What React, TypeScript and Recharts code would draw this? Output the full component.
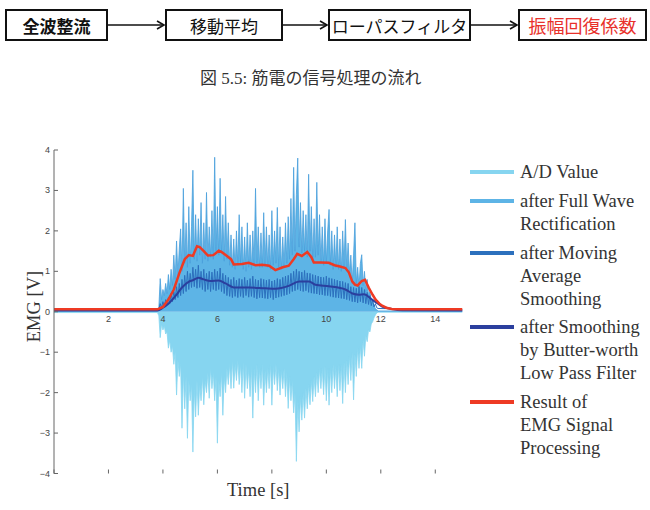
import React from 'react';
import { ComposedChart, Area, Line, XAxis, YAxis, ReferenceDot } from 'recharts';

// sampling grid for the measured part (s)
const ACTIVE_START = 3.85;
const ACTIVE_STEP = 0.05;
const ACTIVE_COUNT = 161;

const SAMPLE_T = [
  0,
  3.8,
  ...Array.from({ length: ACTIVE_COUNT }, (_, i) => +(ACTIVE_START + i * ACTIVE_STEP).toFixed(2)),
  11.9,
  15,
];

// A/D value (lower envelope of the raw signal) [V]
const RAW_AD = [
  -0.02, -0.02,
  -0.10, -0.64, -0.30, -0.45, -0.35, -0.55, -0.50, -0.90, -0.70, -1.00, -0.85, -1.30, -1.00, -2.06, -1.20, -1.60, -1.30, -2.88, -1.50, -2.40,
  -1.60, -3.13, -1.70, -2.20, -1.80, -3.47, -1.90, -2.60, -1.70, -2.56, -1.80, -2.20, -1.60, -2.30, -1.70, -2.00, -1.50, -2.14, -1.40, -1.90,
  -1.50, -2.20, -1.60, -3.25, -1.70, -2.10, -1.50, -2.56, -1.60, -2.00, -1.40, -1.80, -1.30, -1.90, -1.20, -1.89, -1.30, -1.70, -1.20, -1.80,
  -1.30, -2.00, -1.25, -2.14, -1.30, -1.90, -1.40, -2.10, -1.35, -2.63, -1.40, -2.00, -1.30, -2.20, -1.40, -1.90, -1.30, -2.31, -1.45, -2.00,
  -1.40, -1.90, -1.30, -2.31, -1.35, -1.80, -1.30, -1.95, -1.40, -2.06, -1.45, -1.90, -1.40, -2.10, -1.50, -2.39, -1.60, -2.20, -1.70, -2.50,
  -2.00, -3.70, -2.20, -2.97, -2.10, -2.68, -2.00, -2.63, -1.90, -2.40, -1.80, -2.30, -1.70, -2.22, -1.60, -2.10, -1.50, -2.00, -1.40, -1.90,
  -1.40, -2.05, -1.35, -2.20, -1.40, -2.31, -1.40, -2.00, -1.30, -1.90, -1.35, -2.10, -1.30, -1.95, -1.30, -2.27, -1.25, -2.00, -1.20, -1.80,
  -1.10, -1.70, -1.00, -2.18, -1.05, -1.60, -0.90, -1.40, -0.85, -1.40, -0.70, -1.10, -0.60, -0.74, -0.45, -0.50, -0.30, -0.25, -0.15, -0.08,
  -0.03,
  -0.01, -0.01,
];

// after full wave rectification [V]
const RECTIFIED = [
  0.02, 0.02,
  0.10, 0.82, 0.30, 0.55, 0.40, 0.70, 0.45, 0.92, 0.55, 1.05, 0.65, 1.40, 0.80, 1.75, 0.90, 1.55, 2.05, 1.00, 3.05, 1.20,
  2.20, 1.10, 2.60, 1.20, 2.10, 3.50, 1.30, 2.40, 1.25, 2.30, 1.40, 2.70, 1.20, 2.20, 1.30, 2.95, 1.25, 2.10, 1.35, 2.50,
  1.30, 3.82, 1.50, 2.60, 1.40, 3.30, 1.45, 2.40, 1.25, 2.85, 1.30, 2.20, 1.15, 1.90, 1.10, 1.80, 1.05, 2.00, 1.15, 2.40,
  1.20, 2.10, 1.05, 1.85, 1.00, 2.20, 1.10, 1.90, 1.05, 2.00, 1.15, 3.05, 1.20, 2.10, 1.10, 1.95, 1.10, 2.45, 1.15, 2.10,
  1.10, 1.90, 1.05, 2.50, 1.15, 2.00, 1.20, 2.58, 1.10, 2.10, 1.05, 1.85, 1.10, 2.20, 1.20, 2.35, 1.30, 2.80, 1.40, 3.57,
  1.50, 2.90, 3.80, 1.60, 2.70, 1.45, 2.50, 1.50, 2.40, 1.35, 3.40, 1.50, 2.60, 1.30, 2.30, 1.35, 3.20, 1.40, 2.40, 1.20,
  2.10, 1.15, 2.30, 1.20, 2.00, 2.53, 1.15, 2.00, 1.05, 1.90, 1.10, 2.10, 1.05, 1.80, 1.00, 2.00, 1.10, 2.28, 1.05, 1.70,
  0.95, 1.40, 0.70, 1.40, 2.20, 0.70, 1.10, 0.60, 1.20, 1.41, 0.65, 1.00, 0.50, 0.80, 0.40, 0.50, 0.28, 0.25, 0.15, 0.08,
  0.05,
  0.02, 0.02,
];

// after moving average smoothing [V]
const MOVING_AVG = [
  0.05, 0.05,
  0.06, 0.20, 0.10, 0.25, 0.12, 0.30, 0.18, 0.35, 0.20, 0.45, 0.25, 0.50, 0.30, 0.62, 0.35, 0.70, 0.40, 0.80, 0.45, 0.90,
  0.50, 1.00, 0.55, 0.95, 0.60, 1.10, 0.62, 1.05, 0.58, 1.15, 0.60, 1.00, 0.55, 1.05, 0.50, 0.95, 0.55, 1.00, 0.50, 0.98,
  0.55, 1.05, 0.52, 1.00, 0.55, 1.08, 0.50, 0.95, 0.45, 0.90, 0.40, 0.85, 0.38, 0.80, 0.35, 0.85, 0.38, 0.78, 0.35, 0.82,
  0.38, 0.80, 0.35, 0.85, 0.40, 0.78, 0.36, 0.82, 0.38, 0.88, 0.35, 0.80, 0.32, 0.78, 0.35, 0.82, 0.34, 0.80, 0.33, 0.78,
  0.32, 0.80, 0.35, 0.76, 0.30, 0.78, 0.34, 0.82, 0.36, 0.80, 0.38, 0.85, 0.40, 0.88, 0.42, 0.90, 0.45, 0.95, 0.50, 1.00,
  0.52, 1.05, 0.55, 1.00, 0.52, 0.98, 0.50, 1.02, 0.52, 0.96, 0.48, 0.95, 0.46, 0.92, 0.45, 0.90, 0.44, 0.88, 0.42, 0.86,
  0.42, 0.85, 0.40, 0.88, 0.40, 0.84, 0.38, 0.82, 0.36, 0.80, 0.35, 0.78, 0.34, 0.76, 0.33, 0.75, 0.32, 0.72, 0.30, 0.70,
  0.28, 0.62, 0.25, 0.60, 0.24, 0.58, 0.22, 0.62, 0.25, 0.60, 0.22, 0.55, 0.20, 0.48, 0.18, 0.40, 0.15, 0.30, 0.12, 0.20,
  0.10,
  0.08, 0.05,
];

// after smoothing by Butterworth low pass filter
const BUTTER_T = [0, 3.8, 4.0, 4.2, 4.45, 4.7, 4.94, 5.1, 5.31, 5.5, 5.74, 6.05, 6.3, 6.6, 7.15, 7.76, 8.13, 8.62, 9.0, 9.36, 9.6, 10.09, 10.7, 10.96, 11.2, 11.38, 11.68, 11.9, 12.05, 12.4, 12.8, 15];
const BUTTER_V = [0.03, 0.03, 0.10, 0.20, 0.38, 0.60, 0.74, 0.78, 0.84, 0.80, 0.76, 0.77, 0.70, 0.60, 0.60, 0.58, 0.57, 0.64, 0.75, 0.75, 0.67, 0.63, 0.55, 0.45, 0.42, 0.43, 0.30, 0.20, 0.13, 0.07, 0.04, 0.03];

// result of EMG signal processing
const RESULT_T = [0, 3.8, 4.0, 4.2, 4.4, 4.6, 4.8, 4.95, 5.1, 5.25, 5.35, 5.5, 5.65, 5.85, 6.05, 6.15, 6.35, 6.5, 6.6, 6.9, 7.15, 7.4, 7.64, 7.9, 8.13, 8.4, 8.62, 8.8, 8.93, 9.1, 9.3, 9.45, 9.54, 9.8, 10.09, 10.3, 10.5, 10.7, 10.83, 10.95, 11.05, 11.15, 11.3, 11.42, 11.56, 11.7, 11.81, 11.95, 12.05, 12.2, 12.4, 12.7, 15];
const RESULT_V = [0.06, 0.06, 0.12, 0.30, 0.55, 0.95, 1.30, 1.40, 1.38, 1.62, 1.60, 1.50, 1.39, 1.40, 1.51, 1.48, 1.38, 1.30, 1.17, 1.18, 1.21, 1.15, 1.16, 1.14, 1.03, 1.10, 1.14, 1.30, 1.43, 1.38, 1.48, 1.35, 1.22, 1.22, 1.21, 1.15, 1.12, 1.08, 0.97, 0.75, 0.67, 0.65, 0.76, 0.79, 0.59, 0.42, 0.30, 0.20, 0.15, 0.10, 0.07, 0.06, 0.06];

const X_TICKS = [0, 2, 4, 6, 8, 10, 12, 14];
const X_TICK_LABELS = [2, 4, 6, 8, 10, 12, 14];
const Y_TICKS = [-4, -3, -2, -1, 0, 1, 2, 3, 4];

const LEGEND_LABELS = [
  ['A/D Value'],
  ['after Full Wave', 'Rectification'],
  ['after Moving', 'Average', 'Smoothing'],
  ['after Smoothing', 'by Butter-worth', 'Low Pass Filter'],
  ['Result of', 'EMG Signal', 'Processing'],
];

const FLOW_STEPS = ['全波整流', '移動平均', 'ローパスフィルタ', '振幅回復係数'];
const CAPTION = '図 5.5: 筋電の信号処理の流れ';

const C_RAW = '#86d5f0';
const C_RECT = '#5db4e6';
const C_MA = '#2c70bd';
const C_BW = '#2b3f9e';
const C_RED = '#ee3a24';
const LEGEND_COLORS = [C_RAW, C_RECT, C_MA, C_BW, C_RED];

const rawData = SAMPLE_T.map((t, i) => ({ t, v: RAW_AD[i] }));
const rectData = SAMPLE_T.map((t, i) => ({ t, v: RECTIFIED[i] }));
const maData = SAMPLE_T.map((t, i) => ({ t, v: MOVING_AVG[i] }));
const bwData = BUTTER_T.map((t, i) => ({ t, v: BUTTER_V[i] }));
const resultData = RESULT_T.map((t, i) => ({ t, v: RESULT_V[i] }));

const AXIS = '#666';
const serif = '"Liberation Serif", "Times New Roman", serif';
const cjk = '"Noto Sans CJK JP", sans-serif';
const tickFont = '"Liberation Sans", Arial, sans-serif';

const fmt = (v: number) => (v < 0 ? '\u2212' + Math.abs(v) : String(v));

const LeftTick = ({ x, y, payload }: any) => (
  <g>
    <line x1={x} x2={x + 4} y1={y} y2={y} stroke={AXIS} />
    <text x={x - 4} y={y} dominantBaseline="central" textAnchor="end" fontSize={9} fill="#444" fontFamily={tickFont}>
      {fmt(payload.value)}
    </text>
  </g>
);
const RightTick = ({ x, y }: any) => <line x1={x} x2={x - 4} y1={y} y2={y} stroke={AXIS} />;
const BottomTick = ({ x, y }: any) => <line x1={x} x2={x} y1={y} y2={y - 4} stroke={AXIS} />;
const TopTick = ({ x, y }: any) => <line x1={x} x2={x} y1={y} y2={y + 4} stroke={AXIS} />;

function FlowDiagram() {
  const boxes = [
    { left: 5, width: 103 },
    { left: 165, width: 118 },
    { left: 328, width: 143 },
    { left: 518, width: 129 },
  ];
  return (
    <>
      {FLOW_STEPS.map((s, i) => (
        <div
          key={s}
          style={{
            position: 'absolute',
            left: boxes[i].left,
            top: 9,
            width: boxes[i].width,
            height: 32,
            boxSizing: 'border-box',
            border: '2px solid #111',
            display: 'flex',
            alignItems: 'center',
            justifyContent: 'center',
            fontFamily: cjk,
            fontSize: i === 3 ? 18 : 17,
            fontWeight: i === 0 ? 700 : 400,
            color: i === 3 ? '#e8302a' : '#111',
          }}
        >
          {s}
        </div>
      ))}
      <svg width={650} height={50} style={{ position: 'absolute', left: 0, top: 0 }}>
        {[0, 1, 2].map((i) => {
          const x1 = boxes[i].left + boxes[i].width;
          const x2 = boxes[i + 1].left - 1;
          return (
            <g key={i} stroke="#111" strokeWidth={1.6} fill="none">
              <line x1={x1} y1={25} x2={x2} y2={25} />
              <polyline points={`${x2 - 7},${21} ${x2},${25} ${x2 - 7},${29}`} />
            </g>
          );
        })}
      </svg>
    </>
  );
}

export default function App() {
  return (
    <div style={{ position: 'absolute', left: 0, top: 0, width: 650, height: 510, background: '#fff', overflow: 'hidden' }}>
      <FlowDiagram />
      <div style={{ position: 'absolute', left: 200, top: 64, fontFamily: `"Liberation Serif", ${cjk}`, fontSize: 17, color: '#333', whiteSpace: 'nowrap' }}>
        {CAPTION}
      </div>

      <ComposedChart
        width={650}
        height={510}
        margin={{ top: 149, right: 186.5, bottom: 35.5, left: 53 }}
        style={{ position: 'absolute', left: 0, top: 0 }}
      >
        <XAxis
          xAxisId={0}
          dataKey="t"
          type="number"
          domain={[0, 15]}
          allowDataOverflow
          ticks={X_TICKS}
          height={1}
          tickSize={0}
          tickMargin={0}
          axisLine={false}
          tick={<BottomTick />}
          label={{ value: 'Time [s]', position: 'bottom', offset: 8, style: { fontFamily: serif, fontSize: 18.5, fill: '#333' } }}
        />
        <XAxis
          xAxisId="top"
          orientation="top"
          type="number"
          domain={[0, 15]}
          ticks={X_TICKS}
          height={1}
          tickSize={0}
          tickMargin={0}
          axisLine={false}
          tick={<TopTick />}
        />
        <YAxis
          yAxisId={0}
          type="number"
          domain={[-4, 4]}
          ticks={Y_TICKS}
          width={1}
          tickSize={0}
          tickMargin={0}
          axisLine={{ stroke: AXIS }}
          tick={<LeftTick />}
        />
        <YAxis
          yAxisId="right"
          orientation="right"
          type="number"
          domain={[-4, 4]}
          ticks={Y_TICKS}
          width={1}
          tickSize={0}
          tickMargin={0}
          axisLine={false}
          tick={<RightTick />}
        />
        {X_TICK_LABELS.map((v) => (
          <ReferenceDot
            key={v}
            x={v}
            y={0}
            r={1}
            fill="none"
            stroke="none"
            label={{ value: v, position: 'bottom', offset: 3, fontSize: 9, fill: '#444', fontFamily: tickFont }}
          />
        ))}
        <Area data={rawData} dataKey="v" type="linear" baseValue={0} stroke={C_RAW} strokeWidth={0.8} fill={C_RAW} fillOpacity={1} isAnimationActive={false} dot={false} activeDot={false} />
        <Area data={rectData} dataKey="v" type="linear" baseValue={0} stroke="#4aa0dc" strokeWidth={0.8} fill={C_RECT} fillOpacity={1} isAnimationActive={false} dot={false} activeDot={false} />
        <Line data={maData} dataKey="v" type="linear" stroke={C_MA} strokeWidth={1} isAnimationActive={false} dot={false} activeDot={false} />
        <Line data={bwData} dataKey="v" type="monotone" stroke={C_BW} strokeWidth={2} isAnimationActive={false} dot={false} activeDot={false} />
        <Line data={resultData} dataKey="v" type="linear" stroke={C_RED} strokeWidth={2.5} isAnimationActive={false} dot={false} activeDot={false} />
      </ComposedChart>

      <div
        style={{
          position: 'absolute',
          left: 25,
          top: 296,
          width: 20,
          height: 20,
          display: 'flex',
          alignItems: 'center',
          justifyContent: 'center',
        }}
      >
        <div style={{ transform: 'rotate(-90deg)', whiteSpace: 'nowrap', fontFamily: serif, fontSize: 18.5, color: '#333' }}>EMG [V]</div>
      </div>

      <div style={{ position: 'absolute', left: 470, top: 161, fontFamily: serif, fontSize: 18.5, color: '#333', lineHeight: '23px' }}>
        {LEGEND_LABELS.map((lines, i) => (
          <div key={i} style={{ position: 'relative', paddingLeft: 50, marginBottom: 5.75 }}>
            <div style={{ position: 'absolute', left: 0, top: 9, width: 44, height: 4, background: LEGEND_COLORS[i] }} />
            {lines.map((l) => (
              <div key={l} style={{ whiteSpace: 'nowrap' }}>{l}</div>
            ))}
          </div>
        ))}
      </div>
    </div>
  );
}
